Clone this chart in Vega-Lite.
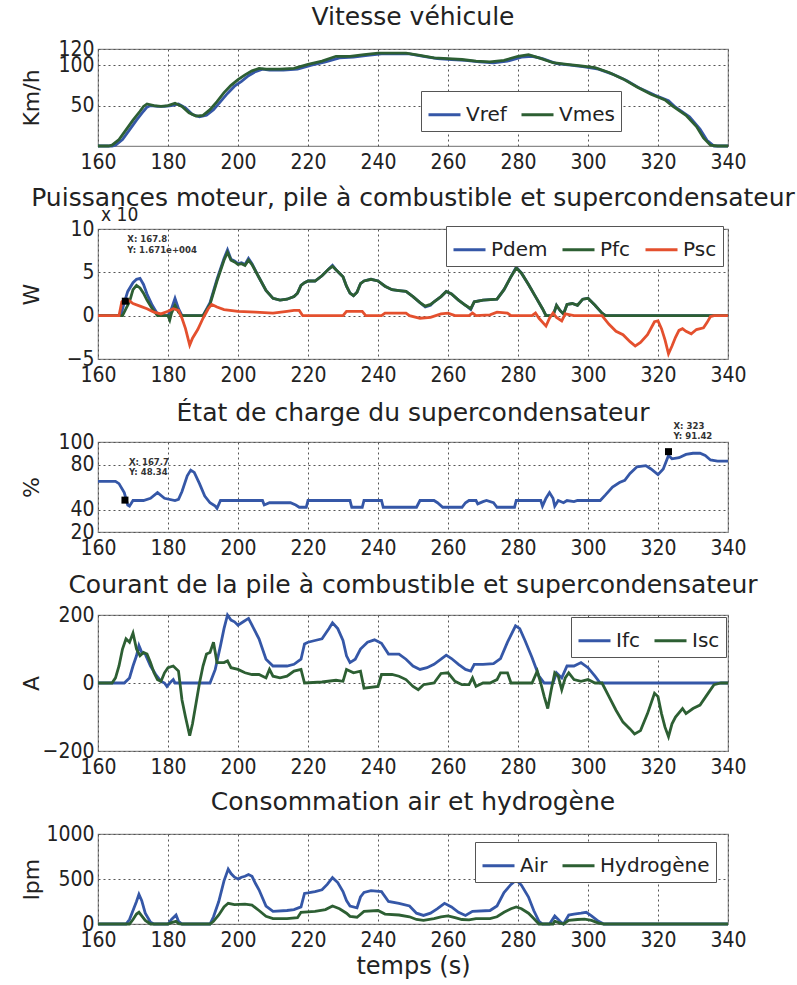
{
"$schema": "https://vega.github.io/schema/vega-lite/v6.json",
"background": "white",
"padding": {"left": 19, "top": 4, "right": 5, "bottom": 2},
"config": {
 "view": {"stroke": "#8a8a8a", "strokeWidth": 1.2, "fill": "white"},
 "axis": {"labelFont": "'DejaVu Sans Condensed', sans-serif", "labelFontSize": 21, "labelColor": "#222", "ticks": false, "domain": false, "grid": true, "gridColor": "#555", "gridDash": [2, 3], "gridWidth": 1, "gridOpacity": 1, "labelOverlap": false, "labelFlush": false, "labelBound": false, "labelPadding": 5, "titleFont": "DejaVu Sans", "titleFontSize": 22, "titleFontWeight": "normal", "titleColor": "#222"},
 "axisY": {"labelPadding": 4, "titleAngle": 270, "titleAlign": "center", "titleBaseline": "middle", "titleX": -67},
 "title": {"font": "DejaVu Sans", "fontSize": 25, "fontWeight": "normal", "color": "#222", "anchor": "middle", "offset": 12, "frame": "group"},
 "legend": {"direction": "horizontal", "symbolType": "stroke", "symbolStrokeWidth": 3, "symbolSize": 1024, "labelFont": "DejaVu Sans", "labelFontSize": 20, "labelColor": "#222", "strokeColor": "#555", "fillColor": "white", "padding": 6, "columnPadding": 8, "labelOffset": 4}
},
"datasets": {
 "v": [
  {"t":160,"s":"Vref","v":0},{"t":164,"s":"Vref","v":0},{"t":165,"s":"Vref","v":1},{"t":167,"s":"Vref","v":8},{"t":169,"s":"Vref","v":20},{"t":171,"s":"Vref","v":32},{"t":173,"s":"Vref","v":43},{"t":174,"s":"Vref","v":48},{"t":175,"s":"Vref","v":50},{"t":177,"s":"Vref","v":49},{"t":179,"s":"Vref","v":49},{"t":181,"s":"Vref","v":50},{"t":183,"s":"Vref","v":52},{"t":185,"s":"Vref","v":47},{"t":187,"s":"Vref","v":39},{"t":189,"s":"Vref","v":36},{"t":191,"s":"Vref","v":38},{"t":193,"s":"Vref","v":45},{"t":195,"s":"Vref","v":55},{"t":197,"s":"Vref","v":65},{"t":199,"s":"Vref","v":74},{"t":201,"s":"Vref","v":80},{"t":203,"s":"Vref","v":87},{"t":205,"s":"Vref","v":92},{"t":207,"s":"Vref","v":95},{"t":209,"s":"Vref","v":94},{"t":213,"s":"Vref","v":94},{"t":217,"s":"Vref","v":95},{"t":221,"s":"Vref","v":100},{"t":225,"s":"Vref","v":104},{"t":229,"s":"Vref","v":109},{"t":233,"s":"Vref","v":110},{"t":237,"s":"Vref","v":112},{"t":241,"s":"Vref","v":114},{"t":245,"s":"Vref","v":114},{"t":249,"s":"Vref","v":114},{"t":253,"s":"Vref","v":111},{"t":257,"s":"Vref","v":108},{"t":261,"s":"Vref","v":107},{"t":265,"s":"Vref","v":106},{"t":269,"s":"Vref","v":104},{"t":273,"s":"Vref","v":103},{"t":277,"s":"Vref","v":105},{"t":281,"s":"Vref","v":110},{"t":284,"s":"Vref","v":111},{"t":287,"s":"Vref","v":108},{"t":291,"s":"Vref","v":102},{"t":295,"s":"Vref","v":100},{"t":299,"s":"Vref","v":98},{"t":303,"s":"Vref","v":95},{"t":307,"s":"Vref","v":89},{"t":311,"s":"Vref","v":81},{"t":315,"s":"Vref","v":71},{"t":319,"s":"Vref","v":63},{"t":323,"s":"Vref","v":56},{"t":325,"s":"Vref","v":48},{"t":329,"s":"Vref","v":36},{"t":332,"s":"Vref","v":21},{"t":334,"s":"Vref","v":7},{"t":336,"s":"Vref","v":0},{"t":340,"s":"Vref","v":0},
  {"t":160,"s":"Vmes","v":0},{"t":163,"s":"Vmes","v":0},{"t":164,"s":"Vmes","v":1},{"t":166,"s":"Vmes","v":8},{"t":168,"s":"Vmes","v":20},{"t":170,"s":"Vmes","v":32},{"t":172,"s":"Vmes","v":43},{"t":173,"s":"Vmes","v":49},{"t":174,"s":"Vmes","v":52},{"t":176,"s":"Vmes","v":50},{"t":178,"s":"Vmes","v":49},{"t":180,"s":"Vmes","v":50},{"t":182,"s":"Vmes","v":53},{"t":184,"s":"Vmes","v":49},{"t":186,"s":"Vmes","v":41},{"t":188,"s":"Vmes","v":37},{"t":190,"s":"Vmes","v":38},{"t":192,"s":"Vmes","v":45},{"t":194,"s":"Vmes","v":55},{"t":196,"s":"Vmes","v":66},{"t":198,"s":"Vmes","v":75},{"t":200,"s":"Vmes","v":82},{"t":202,"s":"Vmes","v":88},{"t":204,"s":"Vmes","v":93},{"t":206,"s":"Vmes","v":96},{"t":208,"s":"Vmes","v":95},{"t":212,"s":"Vmes","v":95},{"t":216,"s":"Vmes","v":96},{"t":220,"s":"Vmes","v":101},{"t":224,"s":"Vmes","v":105},{"t":228,"s":"Vmes","v":111},{"t":232,"s":"Vmes","v":111},{"t":236,"s":"Vmes","v":113},{"t":240,"s":"Vmes","v":115},{"t":244,"s":"Vmes","v":115},{"t":248,"s":"Vmes","v":115},{"t":252,"s":"Vmes","v":112},{"t":256,"s":"Vmes","v":109},{"t":260,"s":"Vmes","v":108},{"t":264,"s":"Vmes","v":107},{"t":268,"s":"Vmes","v":105},{"t":272,"s":"Vmes","v":104},{"t":276,"s":"Vmes","v":106},{"t":280,"s":"Vmes","v":111},{"t":283,"s":"Vmes","v":113},{"t":286,"s":"Vmes","v":109},{"t":290,"s":"Vmes","v":103},{"t":294,"s":"Vmes","v":101},{"t":298,"s":"Vmes","v":99},{"t":302,"s":"Vmes","v":97},{"t":306,"s":"Vmes","v":91},{"t":310,"s":"Vmes","v":83},{"t":314,"s":"Vmes","v":73},{"t":318,"s":"Vmes","v":64},{"t":322,"s":"Vmes","v":57},{"t":324,"s":"Vmes","v":50},{"t":328,"s":"Vmes","v":38},{"t":331,"s":"Vmes","v":24},{"t":333,"s":"Vmes","v":10},{"t":335,"s":"Vmes","v":1},{"t":337,"s":"Vmes","v":0},{"t":340,"s":"Vmes","v":0}
 ],
 "p": [
  {"t":160,"s":"Pdem","v":0},{"t":166.5,"s":"Pdem","v":0},{"t":167.5,"s":"Pdem","v":1.5},{"t":168.5,"s":"Pdem","v":2.8},{"t":170,"s":"Pdem","v":3.8},{"t":171,"s":"Pdem","v":4.2},{"t":172,"s":"Pdem","v":4.3},{"t":173,"s":"Pdem","v":3.6},{"t":174,"s":"Pdem","v":2.5},{"t":175.5,"s":"Pdem","v":1.2},{"t":177,"s":"Pdem","v":0.2},{"t":178,"s":"Pdem","v":0},{"t":180,"s":"Pdem","v":0},{"t":181,"s":"Pdem","v":0.8},{"t":182,"s":"Pdem","v":2.0},{"t":183,"s":"Pdem","v":0.8},{"t":184,"s":"Pdem","v":0},{"t":190,"s":"Pdem","v":0},{"t":192,"s":"Pdem","v":1.5},{"t":194,"s":"Pdem","v":4.2},{"t":196,"s":"Pdem","v":6.6},{"t":197,"s":"Pdem","v":7.6},{"t":198,"s":"Pdem","v":6.5},{"t":199,"s":"Pdem","v":6.3},{"t":200,"s":"Pdem","v":6.0},{"t":201,"s":"Pdem","v":6.1},{"t":202,"s":"Pdem","v":5.9},{"t":203,"s":"Pdem","v":6.6},{"t":204,"s":"Pdem","v":6.0},{"t":206,"s":"Pdem","v":4.4},{"t":208,"s":"Pdem","v":2.9},{"t":210,"s":"Pdem","v":2.0},{"t":212,"s":"Pdem","v":1.8},{"t":214,"s":"Pdem","v":1.9},{"t":216,"s":"Pdem","v":2.2},{"t":217,"s":"Pdem","v":2.6},{"t":218,"s":"Pdem","v":3.5},{"t":219,"s":"Pdem","v":3.8},{"t":220,"s":"Pdem","v":4.0},{"t":222,"s":"Pdem","v":4.0},{"t":224,"s":"Pdem","v":4.6},{"t":226,"s":"Pdem","v":5.4},{"t":227,"s":"Pdem","v":5.8},{"t":228,"s":"Pdem","v":5.3},{"t":230,"s":"Pdem","v":4.5},{"t":231,"s":"Pdem","v":3.4},{"t":232,"s":"Pdem","v":2.6},{"t":233,"s":"Pdem","v":2.3},{"t":234,"s":"Pdem","v":2.7},{"t":235,"s":"Pdem","v":3.7},{"t":236,"s":"Pdem","v":4.0},{"t":238,"s":"Pdem","v":4.2},{"t":240,"s":"Pdem","v":4.0},{"t":242,"s":"Pdem","v":3.4},{"t":244,"s":"Pdem","v":3.0},{"t":246,"s":"Pdem","v":2.9},{"t":248,"s":"Pdem","v":2.8},{"t":250,"s":"Pdem","v":2.2},{"t":252,"s":"Pdem","v":1.5},{"t":253.5,"s":"Pdem","v":1.0},{"t":255,"s":"Pdem","v":1.2},{"t":256,"s":"Pdem","v":1.6},{"t":258,"s":"Pdem","v":2.2},{"t":259.5,"s":"Pdem","v":2.8},{"t":261,"s":"Pdem","v":2.5},{"t":263,"s":"Pdem","v":1.8},{"t":265,"s":"Pdem","v":1.2},{"t":266.5,"s":"Pdem","v":0.7},{"t":267.5,"s":"Pdem","v":1.6},{"t":270,"s":"Pdem","v":1.8},{"t":274,"s":"Pdem","v":1.9},{"t":276,"s":"Pdem","v":3.0},{"t":278,"s":"Pdem","v":4.5},{"t":279.5,"s":"Pdem","v":5.6},{"t":281,"s":"Pdem","v":4.9},{"t":283,"s":"Pdem","v":3.6},{"t":285,"s":"Pdem","v":2.2},{"t":287,"s":"Pdem","v":0.8},{"t":288,"s":"Pdem","v":0},{"t":290,"s":"Pdem","v":0},{"t":291,"s":"Pdem","v":1.2},{"t":292,"s":"Pdem","v":0.6},{"t":293,"s":"Pdem","v":0.2},{"t":294,"s":"Pdem","v":1.3},{"t":295.5,"s":"Pdem","v":1.4},{"t":297,"s":"Pdem","v":1.2},{"t":298.5,"s":"Pdem","v":1.9},{"t":300,"s":"Pdem","v":2.0},{"t":302,"s":"Pdem","v":1.2},{"t":304,"s":"Pdem","v":0.3},{"t":305,"s":"Pdem","v":0},{"t":340,"s":"Pdem","v":0},
  {"t":160,"s":"Pfc","v":0},{"t":167,"s":"Pfc","v":0},{"t":168,"s":"Pfc","v":0.8},{"t":169,"s":"Pfc","v":1.6},{"t":170,"s":"Pfc","v":3.0},{"t":171,"s":"Pfc","v":3.5},{"t":172,"s":"Pfc","v":3.2},{"t":173,"s":"Pfc","v":2.6},{"t":174,"s":"Pfc","v":1.8},{"t":175.5,"s":"Pfc","v":0.8},{"t":177,"s":"Pfc","v":0},{"t":180,"s":"Pfc","v":0},{"t":180.5,"s":"Pfc","v":-0.5},{"t":181,"s":"Pfc","v":0.3},{"t":182,"s":"Pfc","v":1.2},{"t":183,"s":"Pfc","v":0.4},{"t":184,"s":"Pfc","v":0},{"t":190,"s":"Pfc","v":0},{"t":192,"s":"Pfc","v":1.3},{"t":194,"s":"Pfc","v":4.0},{"t":196,"s":"Pfc","v":6.4},{"t":197,"s":"Pfc","v":7.3},{"t":198,"s":"Pfc","v":6.4},{"t":199,"s":"Pfc","v":6.2},{"t":200,"s":"Pfc","v":5.9},{"t":201,"s":"Pfc","v":6.0},{"t":202,"s":"Pfc","v":5.8},{"t":203,"s":"Pfc","v":6.4},{"t":204,"s":"Pfc","v":5.9},{"t":206,"s":"Pfc","v":4.4},{"t":208,"s":"Pfc","v":2.9},{"t":210,"s":"Pfc","v":2.0},{"t":212,"s":"Pfc","v":1.8},{"t":214,"s":"Pfc","v":1.9},{"t":216,"s":"Pfc","v":2.2},{"t":217,"s":"Pfc","v":2.6},{"t":218,"s":"Pfc","v":3.5},{"t":219,"s":"Pfc","v":3.8},{"t":220,"s":"Pfc","v":4.0},{"t":222,"s":"Pfc","v":4.0},{"t":224,"s":"Pfc","v":4.6},{"t":226,"s":"Pfc","v":5.4},{"t":227,"s":"Pfc","v":5.7},{"t":228,"s":"Pfc","v":5.3},{"t":230,"s":"Pfc","v":4.5},{"t":231,"s":"Pfc","v":3.4},{"t":232,"s":"Pfc","v":2.6},{"t":233,"s":"Pfc","v":2.3},{"t":234,"s":"Pfc","v":2.7},{"t":235,"s":"Pfc","v":3.7},{"t":236,"s":"Pfc","v":4.0},{"t":238,"s":"Pfc","v":4.2},{"t":240,"s":"Pfc","v":4.0},{"t":242,"s":"Pfc","v":3.4},{"t":244,"s":"Pfc","v":3.0},{"t":246,"s":"Pfc","v":2.9},{"t":248,"s":"Pfc","v":2.8},{"t":250,"s":"Pfc","v":2.2},{"t":252,"s":"Pfc","v":1.5},{"t":253.5,"s":"Pfc","v":1.1},{"t":255,"s":"Pfc","v":1.3},{"t":256,"s":"Pfc","v":1.6},{"t":258,"s":"Pfc","v":2.2},{"t":259.5,"s":"Pfc","v":2.8},{"t":261,"s":"Pfc","v":2.5},{"t":263,"s":"Pfc","v":1.8},{"t":265,"s":"Pfc","v":1.2},{"t":266.5,"s":"Pfc","v":0.8},{"t":267.5,"s":"Pfc","v":1.6},{"t":270,"s":"Pfc","v":1.8},{"t":274,"s":"Pfc","v":1.9},{"t":276,"s":"Pfc","v":3.0},{"t":278,"s":"Pfc","v":4.5},{"t":279.5,"s":"Pfc","v":5.5},{"t":281,"s":"Pfc","v":4.9},{"t":283,"s":"Pfc","v":3.6},{"t":285,"s":"Pfc","v":2.2},{"t":287,"s":"Pfc","v":0.8},{"t":288,"s":"Pfc","v":0},{"t":290,"s":"Pfc","v":0},{"t":291,"s":"Pfc","v":1.2},{"t":292,"s":"Pfc","v":0.6},{"t":293,"s":"Pfc","v":0.2},{"t":294,"s":"Pfc","v":1.3},{"t":295.5,"s":"Pfc","v":1.4},{"t":297,"s":"Pfc","v":1.2},{"t":298.5,"s":"Pfc","v":1.9},{"t":300,"s":"Pfc","v":2.0},{"t":302,"s":"Pfc","v":1.2},{"t":304,"s":"Pfc","v":0.3},{"t":305,"s":"Pfc","v":0},{"t":340,"s":"Pfc","v":0},
  {"t":160,"s":"Psc","v":0},{"t":166,"s":"Psc","v":0},{"t":166.8,"s":"Psc","v":1.6},{"t":167.5,"s":"Psc","v":1.8},{"t":169,"s":"Psc","v":1.7},{"t":170,"s":"Psc","v":1.4},{"t":172,"s":"Psc","v":1.1},{"t":174,"s":"Psc","v":0.8},{"t":176,"s":"Psc","v":0.4},{"t":178,"s":"Psc","v":0.2},{"t":180,"s":"Psc","v":0.5},{"t":181.5,"s":"Psc","v":0.8},{"t":183,"s":"Psc","v":0.6},{"t":184,"s":"Psc","v":-0.3},{"t":185,"s":"Psc","v":-1.5},{"t":186.2,"s":"Psc","v":-3.4},{"t":187,"s":"Psc","v":-2.6},{"t":188.5,"s":"Psc","v":-1.6},{"t":190,"s":"Psc","v":-0.3},{"t":191.5,"s":"Psc","v":0.8},{"t":192.5,"s":"Psc","v":1.3},{"t":194,"s":"Psc","v":1.0},{"t":196,"s":"Psc","v":0.7},{"t":200,"s":"Psc","v":0.5},{"t":205,"s":"Psc","v":0.4},{"t":210,"s":"Psc","v":0.3},{"t":214,"s":"Psc","v":0.5},{"t":216,"s":"Psc","v":0.6},{"t":217.5,"s":"Psc","v":0.6},{"t":218.5,"s":"Psc","v":0},{"t":230,"s":"Psc","v":0},{"t":231,"s":"Psc","v":0.5},{"t":235.5,"s":"Psc","v":0.5},{"t":236.5,"s":"Psc","v":0},{"t":241,"s":"Psc","v":0},{"t":242,"s":"Psc","v":0.3},{"t":248,"s":"Psc","v":0.3},{"t":249,"s":"Psc","v":0},{"t":252,"s":"Psc","v":-0.3},{"t":255,"s":"Psc","v":-0.2},{"t":258,"s":"Psc","v":0.2},{"t":260,"s":"Psc","v":0.3},{"t":262,"s":"Psc","v":0},{"t":266,"s":"Psc","v":0},{"t":267,"s":"Psc","v":0.3},{"t":268,"s":"Psc","v":0},{"t":272,"s":"Psc","v":0.1},{"t":274,"s":"Psc","v":0.4},{"t":277,"s":"Psc","v":0.3},{"t":278,"s":"Psc","v":0},{"t":284,"s":"Psc","v":0},{"t":285,"s":"Psc","v":0.3},{"t":286,"s":"Psc","v":-0.3},{"t":288,"s":"Psc","v":-1.2},{"t":289,"s":"Psc","v":-0.3},{"t":290,"s":"Psc","v":0.3},{"t":291,"s":"Psc","v":-0.2},{"t":292.5,"s":"Psc","v":-0.6},{"t":293.5,"s":"Psc","v":0.2},{"t":296,"s":"Psc","v":0},{"t":304,"s":"Psc","v":0},{"t":306,"s":"Psc","v":-1.0},{"t":308,"s":"Psc","v":-1.8},{"t":310,"s":"Psc","v":-2.2},{"t":312,"s":"Psc","v":-3.0},{"t":313.5,"s":"Psc","v":-3.5},{"t":315,"s":"Psc","v":-3.1},{"t":317,"s":"Psc","v":-2.2},{"t":319,"s":"Psc","v":-0.7},{"t":320,"s":"Psc","v":-0.6},{"t":321,"s":"Psc","v":-1.5},{"t":322,"s":"Psc","v":-2.8},{"t":323,"s":"Psc","v":-4.4},{"t":324,"s":"Psc","v":-3.5},{"t":325,"s":"Psc","v":-2.5},{"t":326,"s":"Psc","v":-1.7},{"t":327,"s":"Psc","v":-1.5},{"t":328,"s":"Psc","v":-1.8},{"t":329.5,"s":"Psc","v":-2.1},{"t":331,"s":"Psc","v":-1.6},{"t":333,"s":"Psc","v":-1.4},{"t":334,"s":"Psc","v":-0.8},{"t":335,"s":"Psc","v":-0.1},{"t":336,"s":"Psc","v":0},{"t":340,"s":"Psc","v":0}
 ],
 "soc": [
  {"t":160,"v":65},{"t":165,"v":65},{"t":166,"v":63},{"t":167.5,"v":55},{"t":168.5,"v":44},{"t":169,"v":43},{"t":170,"v":48},{"t":173,"v":48},{"t":175,"v":50},{"t":177,"v":55},{"t":179,"v":50},{"t":182,"v":48},{"t":183,"v":49},{"t":184,"v":56},{"t":185.5,"v":70},{"t":186.5,"v":75},{"t":187.5,"v":73},{"t":189,"v":63},{"t":190.5,"v":52},{"t":192,"v":46},{"t":193.5,"v":43},{"t":194,"v":41},{"t":195,"v":48},{"t":207,"v":48},{"t":207.5,"v":44},{"t":209,"v":46},{"t":215,"v":46},{"t":216.5,"v":44},{"t":217.5,"v":42},{"t":219.5,"v":42},{"t":220,"v":48},{"t":232,"v":48},{"t":232.5,"v":42},{"t":235.5,"v":42},{"t":236,"v":48},{"t":241,"v":48},{"t":241.5,"v":42},{"t":251,"v":42},{"t":252,"v":48},{"t":256,"v":48},{"t":257,"v":46},{"t":258.5,"v":42},{"t":264,"v":42},{"t":265,"v":46},{"t":266,"v":48},{"t":268,"v":48},{"t":268.5,"v":45},{"t":270,"v":47},{"t":271,"v":48},{"t":273,"v":46},{"t":274,"v":42},{"t":279,"v":42},{"t":279.5,"v":48},{"t":286.5,"v":48},{"t":287,"v":43},{"t":288,"v":50},{"t":289,"v":55},{"t":290,"v":50},{"t":290.5,"v":43},{"t":291.5,"v":48},{"t":293,"v":46},{"t":294,"v":48},{"t":296,"v":47},{"t":297,"v":48},{"t":303.5,"v":48},{"t":305,"v":53},{"t":307,"v":60},{"t":309,"v":64},{"t":310.5,"v":66},{"t":312,"v":72},{"t":314,"v":78},{"t":316.5,"v":79},{"t":318,"v":76},{"t":320,"v":71},{"t":321.5,"v":76},{"t":322.5,"v":84},{"t":323,"v":88},{"t":324,"v":85},{"t":326,"v":86},{"t":328,"v":89},{"t":330,"v":90},{"t":332,"v":90},{"t":333.5,"v":88},{"t":335,"v":84},{"t":337,"v":83},{"t":340,"v":83}
 ],
 "i": [
  {"t":160,"s":"Ifc","v":0},{"t":167.5,"s":"Ifc","v":0},{"t":169,"s":"Ifc","v":15},{"t":170,"s":"Ifc","v":50},{"t":171,"s":"Ifc","v":80},{"t":171.7,"s":"Ifc","v":110},{"t":172.5,"s":"Ifc","v":90},{"t":173.5,"s":"Ifc","v":85},{"t":175,"s":"Ifc","v":50},{"t":176.5,"s":"Ifc","v":25},{"t":178,"s":"Ifc","v":5},{"t":179,"s":"Ifc","v":0},{"t":179.7,"s":"Ifc","v":-10},{"t":180.5,"s":"Ifc","v":0},{"t":181.5,"s":"Ifc","v":10},{"t":182,"s":"Ifc","v":0},{"t":192,"s":"Ifc","v":0},{"t":193.5,"s":"Ifc","v":40},{"t":195,"s":"Ifc","v":110},{"t":196,"s":"Ifc","v":160},{"t":197,"s":"Ifc","v":200},{"t":198,"s":"Ifc","v":185},{"t":199,"s":"Ifc","v":180},{"t":200,"s":"Ifc","v":170},{"t":201.5,"s":"Ifc","v":180},{"t":203,"s":"Ifc","v":190},{"t":204,"s":"Ifc","v":170},{"t":206,"s":"Ifc","v":130},{"t":208,"s":"Ifc","v":70},{"t":210,"s":"Ifc","v":50},{"t":214,"s":"Ifc","v":50},{"t":216,"s":"Ifc","v":55},{"t":218,"s":"Ifc","v":70},{"t":219,"s":"Ifc","v":115},{"t":220,"s":"Ifc","v":120},{"t":222,"s":"Ifc","v":125},{"t":224,"s":"Ifc","v":130},{"t":226,"s":"Ifc","v":160},{"t":227,"s":"Ifc","v":177},{"t":228.5,"s":"Ifc","v":160},{"t":230,"s":"Ifc","v":125},{"t":231,"s":"Ifc","v":80},{"t":232,"s":"Ifc","v":60},{"t":233.5,"s":"Ifc","v":70},{"t":235,"s":"Ifc","v":100},{"t":237,"s":"Ifc","v":120},{"t":239,"s":"Ifc","v":127},{"t":241,"s":"Ifc","v":117},{"t":243,"s":"Ifc","v":85},{"t":246,"s":"Ifc","v":85},{"t":248,"s":"Ifc","v":70},{"t":250,"s":"Ifc","v":50},{"t":252,"s":"Ifc","v":40},{"t":254,"s":"Ifc","v":45},{"t":256,"s":"Ifc","v":55},{"t":258,"s":"Ifc","v":70},{"t":259.5,"s":"Ifc","v":82},{"t":261,"s":"Ifc","v":72},{"t":263,"s":"Ifc","v":55},{"t":265,"s":"Ifc","v":40},{"t":266.5,"s":"Ifc","v":35},{"t":267.5,"s":"Ifc","v":55},{"t":270,"s":"Ifc","v":55},{"t":273,"s":"Ifc","v":57},{"t":275,"s":"Ifc","v":72},{"t":277,"s":"Ifc","v":120},{"t":279.3,"s":"Ifc","v":168},{"t":280.5,"s":"Ifc","v":160},{"t":282,"s":"Ifc","v":125},{"t":284,"s":"Ifc","v":75},{"t":286,"s":"Ifc","v":20},{"t":287.5,"s":"Ifc","v":0},{"t":290,"s":"Ifc","v":0},{"t":291,"s":"Ifc","v":30},{"t":292.5,"s":"Ifc","v":15},{"t":294,"s":"Ifc","v":50},{"t":296,"s":"Ifc","v":50},{"t":298,"s":"Ifc","v":60},{"t":300,"s":"Ifc","v":45},{"t":302,"s":"Ifc","v":20},{"t":303.5,"s":"Ifc","v":0},{"t":340,"s":"Ifc","v":0},
  {"t":160,"s":"Isc","v":0},{"t":164,"s":"Isc","v":0},{"t":165,"s":"Isc","v":15},{"t":166,"s":"Isc","v":50},{"t":167,"s":"Isc","v":100},{"t":168,"s":"Isc","v":130},{"t":169,"s":"Isc","v":120},{"t":170,"s":"Isc","v":147},{"t":171,"s":"Isc","v":100},{"t":172,"s":"Isc","v":80},{"t":173,"s":"Isc","v":90},{"t":174,"s":"Isc","v":85},{"t":175,"s":"Isc","v":60},{"t":176,"s":"Isc","v":30},{"t":177,"s":"Isc","v":10},{"t":178,"s":"Isc","v":5},{"t":179,"s":"Isc","v":30},{"t":180,"s":"Isc","v":45},{"t":181.5,"s":"Isc","v":50},{"t":183,"s":"Isc","v":35},{"t":184,"s":"Isc","v":-50},{"t":185,"s":"Isc","v":-100},{"t":186.2,"s":"Isc","v":-155},{"t":187,"s":"Isc","v":-120},{"t":188,"s":"Isc","v":-60},{"t":189,"s":"Isc","v":0},{"t":190,"s":"Isc","v":50},{"t":191,"s":"Isc","v":85},{"t":192,"s":"Isc","v":90},{"t":193,"s":"Isc","v":120},{"t":194,"s":"Isc","v":60},{"t":196,"s":"Isc","v":60},{"t":197,"s":"Isc","v":65},{"t":198,"s":"Isc","v":45},{"t":200,"s":"Isc","v":40},{"t":202,"s":"Isc","v":30},{"t":204,"s":"Isc","v":25},{"t":206,"s":"Isc","v":25},{"t":208,"s":"Isc","v":15},{"t":209,"s":"Isc","v":40},{"t":210,"s":"Isc","v":20},{"t":212,"s":"Isc","v":15},{"t":214,"s":"Isc","v":20},{"t":216,"s":"Isc","v":35},{"t":218,"s":"Isc","v":40},{"t":219,"s":"Isc","v":0},{"t":224,"s":"Isc","v":3},{"t":228,"s":"Isc","v":8},{"t":230,"s":"Isc","v":5},{"t":231,"s":"Isc","v":40},{"t":233,"s":"Isc","v":30},{"t":235,"s":"Isc","v":35},{"t":236,"s":"Isc","v":-15},{"t":240,"s":"Isc","v":-10},{"t":241,"s":"Isc","v":25},{"t":244,"s":"Isc","v":25},{"t":246,"s":"Isc","v":20},{"t":248,"s":"Isc","v":10},{"t":250,"s":"Isc","v":-10},{"t":251.5,"s":"Isc","v":-20},{"t":253,"s":"Isc","v":-5},{"t":256,"s":"Isc","v":0},{"t":258,"s":"Isc","v":28},{"t":260,"s":"Isc","v":30},{"t":262,"s":"Isc","v":5},{"t":264,"s":"Isc","v":-5},{"t":266,"s":"Isc","v":-5},{"t":267,"s":"Isc","v":15},{"t":268,"s":"Isc","v":-10},{"t":270,"s":"Isc","v":0},{"t":272,"s":"Isc","v":0},{"t":274,"s":"Isc","v":10},{"t":275,"s":"Isc","v":30},{"t":277,"s":"Isc","v":30},{"t":278,"s":"Isc","v":0},{"t":284,"s":"Isc","v":0},{"t":285.5,"s":"Isc","v":35},{"t":286.5,"s":"Isc","v":0},{"t":287.5,"s":"Isc","v":-40},{"t":288.5,"s":"Isc","v":-75},{"t":289.5,"s":"Isc","v":-20},{"t":290.5,"s":"Isc","v":30},{"t":291.5,"s":"Isc","v":20},{"t":292.5,"s":"Isc","v":-20},{"t":293.5,"s":"Isc","v":15},{"t":294.5,"s":"Isc","v":30},{"t":296,"s":"Isc","v":10},{"t":298,"s":"Isc","v":5},{"t":300,"s":"Isc","v":10},{"t":302,"s":"Isc","v":0},{"t":304,"s":"Isc","v":0},{"t":306,"s":"Isc","v":-40},{"t":308,"s":"Isc","v":-80},{"t":310,"s":"Isc","v":-115},{"t":312,"s":"Isc","v":-135},{"t":313.3,"s":"Isc","v":-150},{"t":315,"s":"Isc","v":-140},{"t":317,"s":"Isc","v":-90},{"t":319,"s":"Isc","v":-30},{"t":320,"s":"Isc","v":-40},{"t":321,"s":"Isc","v":-90},{"t":322,"s":"Isc","v":-130},{"t":323,"s":"Isc","v":-158},{"t":324,"s":"Isc","v":-120},{"t":325,"s":"Isc","v":-100},{"t":327,"s":"Isc","v":-75},{"t":328,"s":"Isc","v":-90},{"t":330,"s":"Isc","v":-75},{"t":332,"s":"Isc","v":-65},{"t":334,"s":"Isc","v":-35},{"t":336,"s":"Isc","v":-5},{"t":338,"s":"Isc","v":0},{"t":340,"s":"Isc","v":0}
 ],
 "c": [
  {"t":160,"s":"Air","v":0},{"t":168,"s":"Air","v":0},{"t":169,"s":"Air","v":50},{"t":170,"s":"Air","v":150},{"t":171,"s":"Air","v":250},{"t":171.7,"s":"Air","v":330},{"t":172.5,"s":"Air","v":260},{"t":173.5,"s":"Air","v":120},{"t":175,"s":"Air","v":20},{"t":176,"s":"Air","v":0},{"t":180,"s":"Air","v":0},{"t":181,"s":"Air","v":50},{"t":182.3,"s":"Air","v":100},{"t":183,"s":"Air","v":30},{"t":184,"s":"Air","v":0},{"t":192,"s":"Air","v":0},{"t":193,"s":"Air","v":80},{"t":194.5,"s":"Air","v":250},{"t":196,"s":"Air","v":480},{"t":197.2,"s":"Air","v":610},{"t":198,"s":"Air","v":560},{"t":199,"s":"Air","v":520},{"t":200,"s":"Air","v":500},{"t":201,"s":"Air","v":520},{"t":202,"s":"Air","v":530},{"t":203,"s":"Air","v":550},{"t":204,"s":"Air","v":530},{"t":205,"s":"Air","v":450},{"t":206,"s":"Air","v":380},{"t":208,"s":"Air","v":200},{"t":210,"s":"Air","v":140},{"t":214,"s":"Air","v":150},{"t":216,"s":"Air","v":160},{"t":218,"s":"Air","v":190},{"t":219,"s":"Air","v":340},{"t":220,"s":"Air","v":345},{"t":222,"s":"Air","v":360},{"t":224,"s":"Air","v":380},{"t":225.5,"s":"Air","v":440},{"t":227,"s":"Air","v":515},{"t":228.5,"s":"Air","v":460},{"t":230,"s":"Air","v":360},{"t":231,"s":"Air","v":260},{"t":232,"s":"Air","v":200},{"t":234,"s":"Air","v":180},{"t":235,"s":"Air","v":300},{"t":236,"s":"Air","v":350},{"t":238,"s":"Air","v":370},{"t":241,"s":"Air","v":360},{"t":243,"s":"Air","v":250},{"t":246,"s":"Air","v":230},{"t":249,"s":"Air","v":200},{"t":251,"s":"Air","v":120},{"t":253,"s":"Air","v":95},{"t":255,"s":"Air","v":120},{"t":257,"s":"Air","v":170},{"t":259,"s":"Air","v":230},{"t":261,"s":"Air","v":190},{"t":263,"s":"Air","v":130},{"t":265,"s":"Air","v":95},{"t":267,"s":"Air","v":140},{"t":272,"s":"Air","v":150},{"t":274,"s":"Air","v":200},{"t":276,"s":"Air","v":350},{"t":278,"s":"Air","v":440},{"t":279.5,"s":"Air","v":490},{"t":281,"s":"Air","v":430},{"t":283,"s":"Air","v":300},{"t":284.5,"s":"Air","v":150},{"t":286,"s":"Air","v":30},{"t":287,"s":"Air","v":0},{"t":289,"s":"Air","v":0},{"t":290.5,"s":"Air","v":90},{"t":292,"s":"Air","v":30},{"t":293,"s":"Air","v":0},{"t":294.5,"s":"Air","v":100},{"t":296,"s":"Air","v":110},{"t":298,"s":"Air","v":120},{"t":299.5,"s":"Air","v":130},{"t":301,"s":"Air","v":90},{"t":303,"s":"Air","v":30},{"t":304.5,"s":"Air","v":0},{"t":340,"s":"Air","v":0},
  {"t":160,"s":"Hydrogène","v":0},{"t":169,"s":"Hydrogène","v":0},{"t":170,"s":"Hydrogène","v":50},{"t":171,"s":"Hydrogène","v":110},{"t":171.7,"s":"Hydrogène","v":130},{"t":172.5,"s":"Hydrogène","v":90},{"t":173.5,"s":"Hydrogène","v":40},{"t":175,"s":"Hydrogène","v":0},{"t":180,"s":"Hydrogène","v":0},{"t":181,"s":"Hydrogène","v":15},{"t":182.3,"s":"Hydrogène","v":30},{"t":183,"s":"Hydrogène","v":5},{"t":184,"s":"Hydrogène","v":0},{"t":192,"s":"Hydrogène","v":0},{"t":193,"s":"Hydrogène","v":30},{"t":194.5,"s":"Hydrogène","v":100},{"t":196,"s":"Hydrogène","v":190},{"t":197.2,"s":"Hydrogène","v":230},{"t":199,"s":"Hydrogène","v":215},{"t":202,"s":"Hydrogène","v":220},{"t":204,"s":"Hydrogène","v":210},{"t":206,"s":"Hydrogène","v":150},{"t":208,"s":"Hydrogène","v":85},{"t":210,"s":"Hydrogène","v":60},{"t":214,"s":"Hydrogène","v":60},{"t":217,"s":"Hydrogène","v":70},{"t":218,"s":"Hydrogène","v":130},{"t":222,"s":"Hydrogène","v":140},{"t":225,"s":"Hydrogène","v":160},{"t":227,"s":"Hydrogène","v":200},{"t":229,"s":"Hydrogène","v":170},{"t":231,"s":"Hydrogène","v":120},{"t":232,"s":"Hydrogène","v":85},{"t":234,"s":"Hydrogène","v":75},{"t":236,"s":"Hydrogène","v":140},{"t":240,"s":"Hydrogène","v":150},{"t":242,"s":"Hydrogène","v":110},{"t":246,"s":"Hydrogène","v":100},{"t":249,"s":"Hydrogène","v":80},{"t":251,"s":"Hydrogène","v":50},{"t":253,"s":"Hydrogène","v":40},{"t":256,"s":"Hydrogène","v":60},{"t":258,"s":"Hydrogène","v":80},{"t":260,"s":"Hydrogène","v":90},{"t":262,"s":"Hydrogène","v":70},{"t":264,"s":"Hydrogène","v":50},{"t":266,"s":"Hydrogène","v":45},{"t":268,"s":"Hydrogène","v":60},{"t":272,"s":"Hydrogène","v":60},{"t":274,"s":"Hydrogène","v":80},{"t":276,"s":"Hydrogène","v":130},{"t":278,"s":"Hydrogène","v":170},{"t":279.5,"s":"Hydrogène","v":190},{"t":281,"s":"Hydrogène","v":170},{"t":283,"s":"Hydrogène","v":120},{"t":284.5,"s":"Hydrogène","v":60},{"t":286,"s":"Hydrogène","v":0},{"t":290,"s":"Hydrogène","v":0},{"t":290.5,"s":"Hydrogène","v":30},{"t":292,"s":"Hydrogène","v":10},{"t":293,"s":"Hydrogène","v":0},{"t":294.5,"s":"Hydrogène","v":40},{"t":297,"s":"Hydrogène","v":50},{"t":299,"s":"Hydrogène","v":55},{"t":301,"s":"Hydrogène","v":40},{"t":303,"s":"Hydrogène","v":10},{"t":304.5,"s":"Hydrogène","v":0},{"t":340,"s":"Hydrogène","v":0}
 ],
 "tips2": [{"t":167.8,"v":1.671,"l1":"X: 167.8","l2":"Y: 1.671e+004"}],
 "exp2": [{"t":160,"v":10,"l":"x 10"}],
 "tips3": [{"k":"a","t":167.7,"v":48.34,"l1":"X: 167.7","l2":"Y: 48.34"},{"k":"b","t":323,"v":91.42,"l1":"X: 323","l2":"Y: 91.42"}]
},
"vconcat": [
 {
  "width": 630, "height": 97,
  "title": {"text": "Vitesse véhicule", "offset": 8},
  "data": {"name": "v"},
  "mark": {"type": "line", "strokeWidth": 2.8},
  "encoding": {
   "x": {"field": "t", "type": "quantitative", "scale": {"domain": [160, 340], "nice": false, "zero": false}, "axis": {"values": [160,180,200,220,240,260,280,300,320,340], "title": null, "grid": true, "labelOverlap": false}},
   "y": {"field": "v", "type": "quantitative", "scale": {"domain": [0, 120], "nice": false, "zero": false}, "axis": {"values": [50, 100, 120], "title": "Km/h", "titleY": 48.5, "grid": true, "labelOverlap": false}},
   "color": {"field": "s", "type": "nominal", "scale": {"domain": ["Vref", "Vmes"], "range": ["#3557a7", "#2d5f33"]}, "legend": {"title": null, "orient": "none", "legendX": 323, "legendY": 42}}
  }
 },
 {
  "width": 630, "height": 130,
  "title": {"text": "Puissances moteur, pile à combustible et supercondensateur", "offset": -5},
  "encoding": {
   "x": {"field": "t", "type": "quantitative", "scale": {"domain": [160, 340], "nice": false, "zero": false}, "axis": {"values": [160,180,200,220,240,260,280,300,320,340], "title": null, "grid": true, "labelOverlap": false}},
   "y": {"field": "v", "type": "quantitative", "scale": {"domain": [-5, 10], "nice": false, "zero": false}, "axis": {"values": [-5, 0, 5, 10], "title": "W", "titleY": 65, "grid": true, "labelOverlap": false}}
  },
  "layer": [
   {
    "data": {"name": "p"},
    "mark": {"type": "line", "strokeWidth": 2.8},
    "encoding": {
     "color": {"field": "s", "type": "nominal", "scale": {"domain": ["Pdem", "Pfc", "Psc"], "range": ["#3557a7", "#2d5f33", "#e4502e"]}, "legend": {"title": null, "orient": "none", "legendX": 348, "legendY": -3}}
    }
   },
   {
    "data": {"name": "tips2"},
    "mark": {"type": "point", "shape": "square", "filled": true, "color": "black", "size": 49, "opacity": 1}
   },
   {
    "data": {"name": "tips2"},
    "mark": {"type": "text", "align": "left", "baseline": "middle", "dx": 2, "dy": -62, "font": "'DejaVu Sans Condensed', sans-serif", "fontSize": 9.5, "fontWeight": "bold", "color": "#333"},
    "encoding": {"text": {"field": "l1"}}
   },
   {
    "data": {"name": "tips2"},
    "mark": {"type": "text", "align": "left", "baseline": "middle", "dx": 2, "dy": -51, "font": "'DejaVu Sans Condensed', sans-serif", "fontSize": 9.5, "fontWeight": "bold", "color": "#333"},
    "encoding": {"text": {"field": "l2"}}
   },
   {
    "data": {"name": "exp2"},
    "mark": {"type": "text", "align": "left", "baseline": "middle", "dx": 3, "dy": -14, "font": "'DejaVu Sans Condensed', sans-serif", "fontSize": 19, "color": "#222"},
    "encoding": {"text": {"field": "l"}}
   }
  ]
 },
 {
  "width": 630, "height": 90,
  "title": {"text": "État de charge du supercondensateur", "offset": -5},
  "encoding": {
   "x": {"field": "t", "type": "quantitative", "scale": {"domain": [160, 340], "nice": false, "zero": false}, "axis": {"values": [160,180,200,220,240,260,280,300,320,340], "title": null, "grid": true, "labelOverlap": false}},
   "y": {"field": "v", "type": "quantitative", "scale": {"domain": [20, 100], "nice": false, "zero": false}, "axis": {"values": [20, 40, 80, 100], "title": "%", "titleY": 45, "grid": true, "labelOverlap": false}}
  },
  "layer": [
   {
    "data": {"name": "soc"},
    "mark": {"type": "line", "strokeWidth": 2.8, "color": "#3557a7"}
   },
   {
    "data": {"name": "tips3"},
    "mark": {"type": "point", "shape": "square", "filled": true, "color": "black", "size": 49, "opacity": 1}
   },
   {
    "data": {"name": "tips3"},
    "transform": [{"filter": "datum.k == 'a'"}],
    "mark": {"type": "text", "align": "left", "baseline": "middle", "dx": 4, "dy": -38, "font": "'DejaVu Sans Condensed', sans-serif", "fontSize": 9.5, "fontWeight": "bold", "color": "#333"},
    "encoding": {"text": {"field": "l1"}}
   },
   {
    "data": {"name": "tips3"},
    "transform": [{"filter": "datum.k == 'a'"}],
    "mark": {"type": "text", "align": "left", "baseline": "middle", "dx": 4, "dy": -28, "font": "'DejaVu Sans Condensed', sans-serif", "fontSize": 9.5, "fontWeight": "bold", "color": "#333"},
    "encoding": {"text": {"field": "l2"}}
   },
   {
    "data": {"name": "tips3"},
    "transform": [{"filter": "datum.k == 'b'"}],
    "mark": {"type": "text", "align": "left", "baseline": "middle", "dx": 5, "dy": -26, "font": "'DejaVu Sans Condensed', sans-serif", "fontSize": 9.5, "fontWeight": "bold", "color": "#333"},
    "encoding": {"text": {"field": "l1"}}
   },
   {
    "data": {"name": "tips3"},
    "transform": [{"filter": "datum.k == 'b'"}],
    "mark": {"type": "text", "align": "left", "baseline": "middle", "dx": 5, "dy": -16, "font": "'DejaVu Sans Condensed', sans-serif", "fontSize": 9.5, "fontWeight": "bold", "color": "#333"},
    "encoding": {"text": {"field": "l2"}}
   }
  ]
 },
 {
  "width": 630, "height": 136,
  "title": {"text": "Courant de la pile à combustible et supercondensateur", "offset": 6},
  "data": {"name": "i"},
  "mark": {"type": "line", "strokeWidth": 2.8},
  "encoding": {
   "x": {"field": "t", "type": "quantitative", "scale": {"domain": [160, 340], "nice": false, "zero": false}, "axis": {"values": [160,180,200,220,240,260,280,300,320,340], "title": null, "grid": true, "labelOverlap": false}},
   "y": {"field": "v", "type": "quantitative", "scale": {"domain": [-200, 200], "nice": false, "zero": false}, "axis": {"values": [-200, 0, 200], "title": "A", "titleY": 68, "grid": true, "labelOverlap": false}},
   "color": {"field": "s", "type": "nominal", "scale": {"domain": ["Ifc", "Isc"], "range": ["#3557a7", "#2d5f33"]}, "legend": {"title": null, "orient": "none", "legendX": 473, "legendY": 2}}
  }
 },
 {
  "width": 630, "height": 90,
  "title": {"text": "Consommation air et hydrogène", "offset": 8},
  "data": {"name": "c"},
  "mark": {"type": "line", "strokeWidth": 2.8},
  "encoding": {
   "x": {"field": "t", "type": "quantitative", "scale": {"domain": [160, 340], "nice": false, "zero": false}, "axis": {"values": [160,180,200,220,240,260,280,300,320,340], "title": "temps (s)", "titlePadding": 4, "titleFontSize": 24, "grid": true, "labelOverlap": false}},
   "y": {"field": "v", "type": "quantitative", "scale": {"domain": [0, 1000], "nice": false, "zero": false}, "axis": {"values": [0, 500, 1000], "format": "d", "title": "lpm", "titleY": 45, "grid": true, "labelOverlap": false}},
   "color": {"field": "s", "type": "nominal", "scale": {"domain": ["Air", "Hydrogène"], "range": ["#3557a7", "#2d5f33"]}, "legend": {"title": null, "orient": "none", "legendX": 377, "legendY": 8}}
  }
 }
],
"spacing": 83,
"bounds": "flush",
"resolve": {"scale": {"color": "independent", "x": "independent", "y": "independent"}, "legend": {"color": "independent"}, "axis": {"x": "independent", "y": "independent"}}
}
